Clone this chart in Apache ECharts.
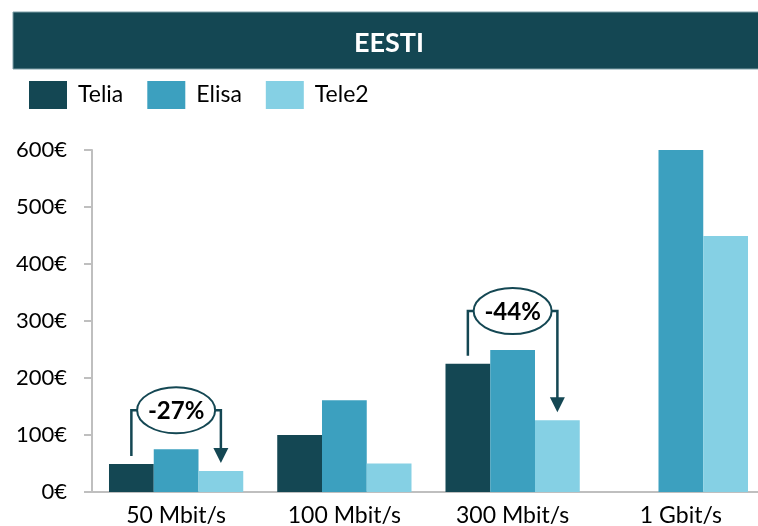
<!DOCTYPE html>
<html>
<head>
<meta charset="utf-8">
<script src="https://cdn.jsdelivr.net/npm/echarts@6/dist/echarts.min.js"></script>
<style>
  html, body { margin: 0; padding: 0; background: #fff; }
  #chart { width: 758px; height: 526px; }
</style>
</head>
<body>
<div id="chart"></div>
<script>
  const categories = ["50 Mbit/s", "100 Mbit/s", "300 Mbit/s", "1 Gbit/s"]
  const telia = [49, 100, 225, null]
  const elisa = [75, 161, 249, 600]
  const tele2 = [37, 50, 126, 449]
  const notes = [
    { cat: 0, text: "-27%" },
    { cat: 2, text: "-44%" }
  ]

  const dark = "#144753"
  const font = "Lato"

  const chart = echarts.init(document.getElementById("chart"))

  function bar(name, data, color) {
    return {
      name: name,
      type: "bar",
      data: data,
      barWidth: "26.6%",
      barGap: "0%",
      itemStyle: { color: color },
      emphasis: { disabled: true }
    }
  }

  chart.setOption({
    animation: false,
    textStyle: { fontFamily: font },
    legend: {
      left: 24,
      top: 76,
      itemWidth: 38,
      itemHeight: 28,
      itemGap: 24,
      icon: "rect",
      textStyle: { fontSize: 23, color: "#000", padding: [0, 0, 0, 6], fontFamily: font }
    },
    // plot runs a little past the right edge of the page
    grid: { left: 92, width: 673, top: 150, bottom: 34, outerBoundsMode: "none" },
    xAxis: {
      type: "category",
      data: categories,
      axisLine: { lineStyle: { color: "#bfbfbf", width: 2 } },
      axisTick: { show: false },
      axisLabel: { fontSize: 23, color: "#000", margin: 12 }
    },
    yAxis: {
      type: "value",
      min: 0,
      max: 600,
      interval: 100,
      axisLine: { show: true, lineStyle: { color: "#bfbfbf", width: 2 } },
      axisTick: { show: true, length: 8, lineStyle: { color: "#bfbfbf", width: 2 } },
      splitLine: { show: false },
      axisLabel: { fontSize: 22, color: "#000", margin: 25, formatter: "{value}€" }
    },
    series: [
      bar("Telia", telia, dark),
      bar("Elisa", elisa, "#3ca0bf"),
      bar("Tele2", tele2, "#85d0e4")
    ]
  })

  // header bar + arrows drawn on top, positioned from the axes
  const px = (c) => chart.convertToPixel({ xAxisIndex: 0 }, c)
  const py = (v) => chart.convertToPixel({ yAxisIndex: 0 }, v)
  const band = px(1) - px(0)
  const barW = band * 0.266

  const graphic = [
    {
      type: "rect",
      shape: { x: 13, y: 12, width: 760, height: 57 },
      style: { fill: dark, stroke: "#7fa0a8", lineWidth: 1 }
    },
    {
      type: "text",
      x: 389,
      y: 43,
      style: {
        text: "EESTI",
        fill: "#fff",
        font: "bold 27px " + font,
        textAlign: "center",
        textVerticalAlign: "middle"
      }
    }
  ]

  notes.forEach(function (n) {
    const c = px(n.cat)
    const xl = c - barW
    const xr = c + barW
    const ex = c
    const ey = py(elisa[n.cat]) - 39
    const rx = 39
    const ry = 23
    const startY = py(telia[n.cat]) - 8
    const tipY = py(tele2[n.cat]) - 8
    const line = { stroke: dark, lineWidth: 2.5, fill: null }
    graphic.push(
      { type: "polyline", shape: { points: [[xl, startY], [xl, ey], [ex - rx, ey]] }, style: line },
      { type: "polyline", shape: { points: [[ex + rx, ey], [xr, ey], [xr, tipY - 13]] }, style: line },
      { type: "polygon", shape: { points: [[xr - 7.5, tipY - 15], [xr + 7.5, tipY - 15], [xr, tipY]] }, style: { fill: dark } },
      { type: "ellipse", shape: { cx: ex, cy: ey, rx: rx, ry: ry }, style: { fill: "#fff", stroke: dark, lineWidth: 2 } },
      {
        type: "text",
        x: ex,
        y: ey + 1,
        style: {
          text: n.text,
          fill: "#000",
          font: "bold 24px " + font,
          textAlign: "center",
          textVerticalAlign: "middle"
        }
      }
    )
  })

  chart.setOption({ graphic: graphic })
</script>
</body>
</html>
